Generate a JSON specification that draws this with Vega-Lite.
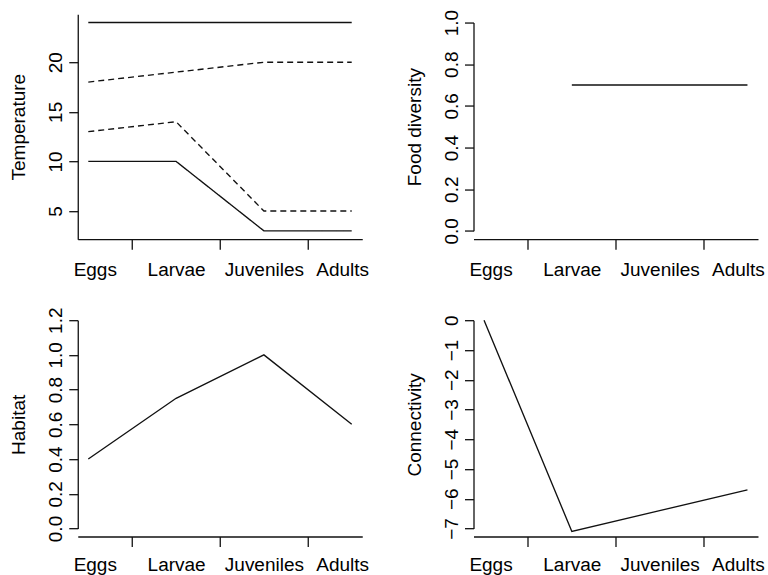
{
  "$schema": "https://vega.github.io/schema/vega-lite/v6.json",
  "background": "white",
  "padding": {"left": 9.5, "top": 9.2, "right": 2, "bottom": 0},
  "config": {
    "view": {"stroke": null},
    "font": "Liberation Sans",
    "line": {"color": "#111111", "strokeWidth": 1.35},
    "axis": {
      "grid": false,
      "labelFont": "Liberation Sans",
      "titleFont": "Liberation Sans",
      "labelFontSize": 19,
      "titleFontSize": 19,
      "titleFontWeight": "normal",
      "labelColor": "#000000",
      "titleColor": "#000000",
      "domainColor": "#111111",
      "tickColor": "#111111",
      "domainWidth": 1.3,
      "tickWidth": 1.3,
      "labelFlush": false,
      "labelOverlap": false
    },
    "axisY": {
      "labelAngle": -90,
      "labelAlign": "center",
      "labelBaseline": "bottom",
      "tickSize": 9,
      "labelPadding": 3,
      "titleAngle": -90,
      "titleBaseline": "alphabetic",
      "titleX": -53
    },
    "axisX": {
      "tickSize": 10,
      "labelBaseline": "alphabetic",
      "labelPadding": 26
    }
  },
  "datasets": {
    "temperature": [
      {"stage": "Eggs", "step": 1, "series": "Tolerance max", "range": "tolerance", "value": 24},
      {"stage": "Larvae", "step": 2, "series": "Tolerance max", "range": "tolerance", "value": 24},
      {"stage": "Juveniles", "step": 3, "series": "Tolerance max", "range": "tolerance", "value": 24},
      {"stage": "Adults", "step": 4, "series": "Tolerance max", "range": "tolerance", "value": 24},
      {"stage": "Eggs", "step": 1, "series": "Optimum max", "range": "optimum", "value": 18},
      {"stage": "Larvae", "step": 2, "series": "Optimum max", "range": "optimum", "value": 19},
      {"stage": "Juveniles", "step": 3, "series": "Optimum max", "range": "optimum", "value": 20},
      {"stage": "Adults", "step": 4, "series": "Optimum max", "range": "optimum", "value": 20},
      {"stage": "Eggs", "step": 1, "series": "Optimum min", "range": "optimum", "value": 13},
      {"stage": "Larvae", "step": 2, "series": "Optimum min", "range": "optimum", "value": 14},
      {"stage": "Juveniles", "step": 3, "series": "Optimum min", "range": "optimum", "value": 5},
      {"stage": "Adults", "step": 4, "series": "Optimum min", "range": "optimum", "value": 5},
      {"stage": "Eggs", "step": 1, "series": "Tolerance min", "range": "tolerance", "value": 10},
      {"stage": "Larvae", "step": 2, "series": "Tolerance min", "range": "tolerance", "value": 10},
      {"stage": "Juveniles", "step": 3, "series": "Tolerance min", "range": "tolerance", "value": 3},
      {"stage": "Adults", "step": 4, "series": "Tolerance min", "range": "tolerance", "value": 3}
    ],
    "food": [
      {"stage": "Eggs", "step": 1, "value": null},
      {"stage": "Larvae", "step": 2, "value": 0.7},
      {"stage": "Juveniles", "step": 3, "value": 0.7},
      {"stage": "Adults", "step": 4, "value": 0.7}
    ],
    "habitat": [
      {"stage": "Eggs", "step": 1, "value": 0.4},
      {"stage": "Larvae", "step": 2, "value": 0.75},
      {"stage": "Juveniles", "step": 3, "value": 1.0},
      {"stage": "Adults", "step": 4, "value": 0.6}
    ],
    "connectivity": [
      {"stage": "Eggs", "step": 1, "value": 0},
      {"stage": "Larvae", "step": 2, "value": -7.1},
      {"stage": "Juveniles", "step": 3, "value": -6.4},
      {"stage": "Adults", "step": 4, "value": -5.7}
    ]
  },
  "columns": 2,
  "bounds": "flush",
  "center": true,
  "spacing": {"row": 81, "column": 111},
  "concat": [
    {
      "width": 284.5,
      "height": 225,
      "data": {"name": "temperature"},
      "mark": {"type": "line"},
      "encoding": {
        "x": {
          "field": "step", "type": "quantitative",
          "scale": {"domain": [0.88, 4.12], "nice": false, "zero": false},
          "axis": {
            "title": null,
            "values": [1, 1.5, 2, 2.5, 3, 3.5, 4],
            "labelExpr": "datum.value == 1 ? 'Eggs' : datum.value == 2 ? 'Larvae' : datum.value == 3 ? 'Juveniles' : datum.value == 4 ? 'Adults' : ''",
            "tickOpacity": {"condition": {"test": "datum.value % 1 === 0", "value": 0}, "value": 1},
            "labelOffset": {"condition": [{"test": "datum.value === 1", "value": 6.5}, {"test": "datum.value === 4", "value": -9.5}], "value": 0},
            "offset": 0
          }
        },
        "y": {
          "field": "value", "type": "quantitative", "title": "Temperature",
          "scale": {"domain": [2.16, 24.84], "nice": false, "zero": false},
          "axis": {"values": [5, 10, 15, 20]}
        },
        "detail": {"field": "series", "type": "nominal"},
        "strokeDash": {
          "field": "range", "type": "nominal",
          "scale": {"domain": ["tolerance", "optimum"], "range": [[1, 0], [6, 4]]},
          "legend": null
        }
      }
    },
    {
      "width": 284.5,
      "height": 208.3,
      "data": {"name": "food"},
      "mark": {"type": "line"},
      "encoding": {
        "x": {
          "field": "step", "type": "quantitative",
          "scale": {"domain": [0.88, 4.12], "nice": false, "zero": false},
          "axis": {
            "title": null,
            "values": [1, 1.5, 2, 2.5, 3, 3.5, 4],
            "labelExpr": "datum.value == 1 ? 'Eggs' : datum.value == 2 ? 'Larvae' : datum.value == 3 ? 'Juveniles' : datum.value == 4 ? 'Adults' : ''",
            "tickOpacity": {"condition": {"test": "datum.value % 1 === 0", "value": 0}, "value": 1},
            "labelOffset": {"condition": [{"test": "datum.value === 1", "value": 6.5}, {"test": "datum.value === 4", "value": -9.5}], "value": 0},
            "offset": 8.3
          }
        },
        "y": {
          "field": "value", "type": "quantitative", "title": "Food diversity",
          "scale": {"domain": [0, 1], "nice": false, "zero": false},
          "axis": {"values": [0, 0.2, 0.4, 0.6, 0.8, 1.0], "format": ".1f"}
        }
      }
    },
    {
      "width": 284.5,
      "height": 208.3,
      "data": {"name": "habitat"},
      "mark": {"type": "line"},
      "encoding": {
        "x": {
          "field": "step", "type": "quantitative",
          "scale": {"domain": [0.88, 4.12], "nice": false, "zero": false},
          "axis": {
            "title": null,
            "values": [1, 1.5, 2, 2.5, 3, 3.5, 4],
            "labelExpr": "datum.value == 1 ? 'Eggs' : datum.value == 2 ? 'Larvae' : datum.value == 3 ? 'Juveniles' : datum.value == 4 ? 'Adults' : ''",
            "tickOpacity": {"condition": {"test": "datum.value % 1 === 0", "value": 0}, "value": 1},
            "labelOffset": {"condition": [{"test": "datum.value === 1", "value": 6.5}, {"test": "datum.value === 4", "value": -9.5}], "value": 0},
            "labelPadding": 24,
            "offset": 8
          }
        },
        "y": {
          "field": "value", "type": "quantitative", "title": "Habitat",
          "scale": {"domain": [0, 1.2], "nice": false, "zero": false},
          "axis": {"values": [0, 0.2, 0.4, 0.6, 0.8, 1.0, 1.2], "format": ".1f"}
        }
      }
    },
    {
      "width": 284.5,
      "height": 208.3,
      "data": {"name": "connectivity"},
      "mark": {"type": "line"},
      "encoding": {
        "x": {
          "field": "step", "type": "quantitative",
          "scale": {"domain": [0.88, 4.12], "nice": false, "zero": false},
          "axis": {
            "title": null,
            "values": [1, 1.5, 2, 2.5, 3, 3.5, 4],
            "labelExpr": "datum.value == 1 ? 'Eggs' : datum.value == 2 ? 'Larvae' : datum.value == 3 ? 'Juveniles' : datum.value == 4 ? 'Adults' : ''",
            "tickOpacity": {"condition": {"test": "datum.value % 1 === 0", "value": 0}, "value": 1},
            "labelOffset": {"condition": [{"test": "datum.value === 1", "value": 6.5}, {"test": "datum.value === 4", "value": -9.5}], "value": 0},
            "labelPadding": 24,
            "offset": 8
          }
        },
        "y": {
          "field": "value", "type": "quantitative", "title": "Connectivity",
          "scale": {"domain": [-7, 0], "nice": false, "zero": false},
          "axis": {"values": [-7, -6, -5, -4, -3, -2, -1, 0]}
        }
      }
    }
  ]
}
